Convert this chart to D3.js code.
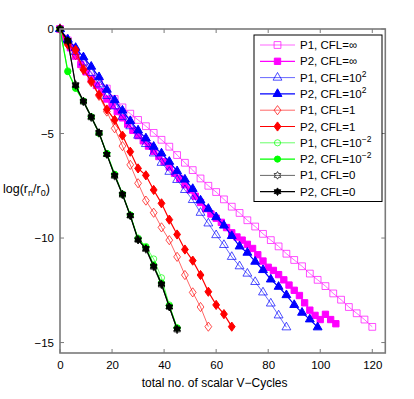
<!DOCTYPE html>
<html>
<head>
<meta charset="utf-8">
<script src="https://cdn.jsdelivr.net/npm/d3@7"></script>
<style>
  body { margin: 0; background: #fff; }
  text { font-family: "Liberation Sans", Arial, sans-serif; }
</style>
</head>
<body>
<script>
const w = 414
const h = 399

// x values (total scalar V-cycles)
const cyclesStep3 = [0, 3, 6, 9, 12, 15, 18, 21, 24, 27, 30, 33, 36, 39, 42, 45, 48, 51, 54, 57, 60,
  63, 66, 69, 72, 75, 78, 81, 84, 87, 90, 93, 96, 99, 102, 105, 108, 111, 114, 117, 120]
const cyclesStep2 = [0, 2, 4, 6, 8, 10, 12, 14, 16, 18, 20, 22, 24, 26, 28, 30, 32, 34, 36, 38, 40,
  42, 44, 46, 48, 50, 52, 54, 56, 58, 60, 62, 64, 66, 68, 70, 72, 74, 76, 78, 80, 82, 84, 86, 88,
  90, 92, 94, 96, 98, 100, 102, 104, 106]

// log(r_n/r_0) for each run
const p1Inf = [0, -0.55, -1.1, -1.6, -2.05, -2.5, -2.85, -3.35, -3.75, -4.05, -4.35, -4.65, -4.97, -5.3,
  -5.63, -6.03, -6.4, -6.75, -7.15, -7.5, -7.8, -8.15, -8.5, -8.8, -9.15, -9.45, -9.8, -10.1, -10.4,
  -10.75, -11.05, -11.35, -11.7, -12.0, -12.3, -12.65, -12.95, -13.3, -13.6, -13.9, -14.25]
const p2Inf = [0, -0.45, -0.9, -1.3, -1.7, -2.05, -2.4, -2.7, -3.0, -3.35, -3.65, -3.95, -4.25, -4.55,
  -4.85, -5.1, -5.35, -5.6, -5.85, -6.1, -6.35, -6.6, -6.9, -7.15, -7.45, -7.7, -8.0, -8.3, -8.6,
  -8.85, -9.05, -9.25, -9.5, -9.75, -9.95, -10.1, -10.3, -10.5, -10.8, -11.1, -11.4, -11.55, -11.75,
  -12.0, -12.25, -12.5, -12.75, -13.1, -13.45, -13.7, -13.9, -13.65, -13.9, -14.1]
const p1Cfl100 = [0, -0.55, -1.1, -1.6, -2.1, -2.65, -3.2, -3.7, -4.2, -4.65, -5.1, -5.5, -5.95, -6.4,
  -6.83, -7.22, -7.7, -8.18, -8.79, -9.3, -9.86, -10.33, -10.9, -11.35, -11.7, -12.1, -12.6, -13.13,
  -13.7, -14.27]
const p2Cfl100 = [0, -0.5, -0.9, -1.35, -1.8, -2.3, -2.9, -3.4, -3.9, -4.4, -4.85, -5.23, -5.63, -5.95,
  -6.35, -6.8, -7.2, -7.65, -8.2, -8.6, -9.0, -9.4, -9.9, -10.4, -10.7, -11.13, -11.53, -11.98,
  -12.33, -12.73, -13.2, -13.57, -13.89, -14.27]
const p1Cfl1 = [0, -0.7, -1.25, -1.9, -2.55, -3.2, -3.95, -4.75, -5.6, -6.5, -7.38, -8.21, -8.79, -9.49,
  -10.1, -10.9, -11.77, -12.6, -13.3, -14.24]
const p2Cfl1 = [0, -0.75, -1.0, -1.95, -2.5, -3.15, -3.85, -4.35, -5.1, -5.87, -6.67, -7.0, -7.7, -8.34,
  -9.12, -9.83, -10.55, -11.08, -11.77, -12.57, -13.2, -13.64, -14.24]
const p1Cfl001 = [0, -2.0, -2.8, -3.45, -4.2, -5.0, -6.0, -7.0, -7.9, -8.9, -10.0, -10.4, -11.0, -11.9,
  -13.2, -14.3]
const p2Cfl001 = [0, -2.04, -2.84, -3.45, -4.2, -4.98, -5.95, -6.95, -7.9, -8.9, -10.05, -10.45, -11.3,
  -12.15, -13.25, -14.3]
const p1Cfl0 = [0, -0.6, -2.65, -3.5, -4.25, -5.0, -6.0, -7.05, -7.95, -8.95, -10.05, -10.55, -11.4,
  -12.25, -13.3, -14.4]
const p2Cfl0 = [0, -0.55, -2.7, -3.45, -4.2, -4.95, -6.0, -7.0, -7.9, -8.92, -10.1, -10.5, -11.35,
  -12.2, -13.3, -14.35]

const xTicks = [0, 20, 40, 60, 80, 100, 120]
const yTicks = [0, -5, -10, -15]

// legend label pieces: [main text, superscript]
const runs = [
  { label: ["P1, CFL=\u221e", ""], x: cyclesStep3, y: p1Inf, color: "#ff00ff", marker: "square", filled: false, p2: false },
  { label: ["P2, CFL=\u221e", ""], x: cyclesStep2, y: p2Inf, color: "#ff00ff", marker: "square", filled: true, p2: true },
  { label: ["P1, CFL=10", "2"], x: cyclesStep3, y: p1Cfl100, color: "#0000ff", marker: "triangle", filled: false, p2: false },
  { label: ["P2, CFL=10", "2"], x: cyclesStep3, y: p2Cfl100, color: "#0000ff", marker: "triangle", filled: true, p2: true },
  { label: ["P1, CFL=1", ""], x: cyclesStep3, y: p1Cfl1, color: "#ff0000", marker: "diamond", filled: false, p2: false },
  { label: ["P2, CFL=1", ""], x: cyclesStep3, y: p2Cfl1, color: "#ff0000", marker: "diamond", filled: true, p2: true },
  { label: ["P1, CFL=10", "\u22122"], x: cyclesStep3, y: p1Cfl001, color: "#00ff00", marker: "circle", filled: false, p2: false },
  { label: ["P2, CFL=10", "\u22122"], x: cyclesStep3, y: p2Cfl001, color: "#00ff00", marker: "circle", filled: true, p2: true },
  { label: ["P1, CFL=0", ""], x: cyclesStep3, y: p1Cfl0, color: "#000000", marker: "hexagram", filled: false, p2: false },
  { label: ["P2, CFL=0", ""], x: cyclesStep3, y: p2Cfl0, color: "#000000", marker: "hexagram", filled: true, p2: true }
]

const plotL = 60, plotR = 385.3, plotT = 29, plotB = 353

const x = d3.scaleLinear().domain([0, 125]).range([plotL, plotR])
const y = d3.scaleLinear().domain([-15.5, 0]).range([plotB, plotT])

const svg = d3.select("body").append("svg")
  .attr("width", w)
  .attr("height", h)

svg.append("rect").attr("width", w).attr("height", h).attr("fill", "#fff")

// marker paths
const hexagram = (r) => {
  const pts = []
  for (let i = 0; i < 12; i++) {
    const a = Math.PI / 2 + i * Math.PI / 6
    const rr = i % 2 === 0 ? r : r * 0.58
    pts.push([rr * Math.cos(a), -rr * Math.sin(a)])
  }
  return "M" + pts.map(p => p.join(",")).join("L") + "Z"
}
const markerPath = (type, filled) => {
  switch (type) {
    case "square":
      return filled ? d3.symbol(d3.symbolSquare, 40)() : d3.symbol(d3.symbolSquare, 46)()
    case "triangle":
      return d3.symbol(d3.symbolTriangle, 34)()
    case "diamond":
      return "M0,-4.6L3.4,0L0,4.6L-3.4,0Z"
    case "circle":
      return d3.symbol(d3.symbolCircle, 30)()
    case "hexagram":
      return hexagram(3.8)
  }
}

const line = d3.line().x(d => x(d[0])).y(d => y(d[1]))

// series
runs.forEach(run => {
  const pts = run.y.map((v, i) => [run.x[i], v])
  const g = svg.append("g")
  g.append("path")
    .attr("d", line(pts))
    .attr("fill", "none")
    .attr("stroke", run.color)
    .attr("stroke-width", run.p2 ? 1.2 : 0.6)
  g.selectAll("path.m")
    .data(pts)
    .enter()
    .append("path")
    .attr("class", "m")
    .attr("transform", d => `translate(${x(d[0])},${y(d[1])})`)
    .attr("d", markerPath(run.marker, run.filled))
    .attr("fill", run.filled ? run.color : "none")
    .attr("stroke", run.color)
    .attr("stroke-width", run.filled ? 1 : 0.7)
})

// axes box
const axisColor = "#7a7a7a"
svg.append("rect")
  .attr("x", plotL).attr("y", plotT)
  .attr("width", plotR - plotL).attr("height", plotB - plotT)
  .attr("fill", "none")
  .attr("stroke", axisColor)
  .attr("stroke-width", 1.6)

const xAxis = d3.axisBottom(x).tickValues(xTicks).tickSize(0).tickPadding(8)
svg.append("g").attr("transform", `translate(0,${plotB})`).call(xAxis)
  .call(g => g.select(".domain").remove())
  .selectAll("text").attr("font-size", 11.5).attr("fill", "#000")
  .attr("font-family", "Liberation Sans, Arial, sans-serif")

const yAxis = d3.axisLeft(y).tickValues(yTicks).tickSize(0).tickPadding(6)
  .tickFormat(d => d < 0 ? "\u2212" + Math.abs(d) : d)
svg.append("g").attr("transform", `translate(${plotL},0)`).call(yAxis)
  .call(g => g.select(".domain").remove())
  .selectAll("text").attr("font-size", 11.5).attr("fill", "#000")
  .attr("font-family", "Liberation Sans, Arial, sans-serif")

// inward ticks on all four sides
const tickLen = 4
xTicks.forEach(t => {
  svg.append("line").attr("x1", x(t)).attr("x2", x(t)).attr("y1", plotB).attr("y2", plotB - tickLen)
    .attr("stroke", axisColor).attr("stroke-width", 1)
  svg.append("line").attr("x1", x(t)).attr("x2", x(t)).attr("y1", plotT).attr("y2", plotT + tickLen)
    .attr("stroke", axisColor).attr("stroke-width", 1)
})
yTicks.forEach(t => {
  svg.append("line").attr("x1", plotL).attr("x2", plotL + tickLen).attr("y1", y(t)).attr("y2", y(t))
    .attr("stroke", axisColor).attr("stroke-width", 1)
  svg.append("line").attr("x1", plotR).attr("x2", plotR - tickLen).attr("y1", y(t)).attr("y2", y(t))
    .attr("stroke", axisColor).attr("stroke-width", 1)
})

// axis labels
svg.append("text")
  .attr("x", (plotL + plotR) / 2 - 8)
  .attr("y", 387)
  .attr("text-anchor", "middle")
  .attr("font-size", 12)
  .text("total no. of scalar V\u2212Cycles")

const yl = svg.append("text").attr("x", 3).attr("y", 193).attr("font-size", 12.5)
yl.append("tspan").text("log(r")
yl.append("tspan").attr("font-size", 9).attr("dy", 3).text("n")
yl.append("tspan").attr("dy", -3).text("/r")
yl.append("tspan").attr("font-size", 9).attr("dy", 3).text("0")
yl.append("tspan").attr("dy", -3).text(")")

// legend
const legend = svg.append("g").attr("id", "legend")
legend.append("rect")
  .attr("x", 254).attr("y", 35)
  .attr("width", 128).attr("height", 166.5)
  .attr("fill", "#fff")
  .attr("stroke", "#000")
  .attr("stroke-width", 1)

const legendItems = legend.selectAll("g.item")
  .data(runs)
  .enter()
  .append("g")
  .attr("class", "item")
  .attr("transform", (d, i) => `translate(0,${45 + i * 16.3})`)

legendItems.append("line")
  .attr("x1", 260).attr("x2", 295)
  .attr("stroke", d => d.color)
  .attr("stroke-width", d => d.p2 ? 1.2 : 0.6)
legendItems.append("path")
  .attr("transform", "translate(277.5,0)")
  .attr("d", d => markerPath(d.marker, d.filled))
  .attr("fill", d => d.filled ? d.color : "none")
  .attr("stroke", d => d.color)
  .attr("stroke-width", d => d.filled ? 1 : 0.7)

const legendText = legendItems.append("text")
  .attr("x", 300)
  .attr("y", 4)
  .attr("font-size", 11.5)
legendText.append("tspan").text(d => d.label[0])
legendText.filter(d => d.label[1] !== "")
  .append("tspan").attr("font-size", 8.5).attr("dy", -5).text(d => d.label[1])
</script>
</body>
</html>
